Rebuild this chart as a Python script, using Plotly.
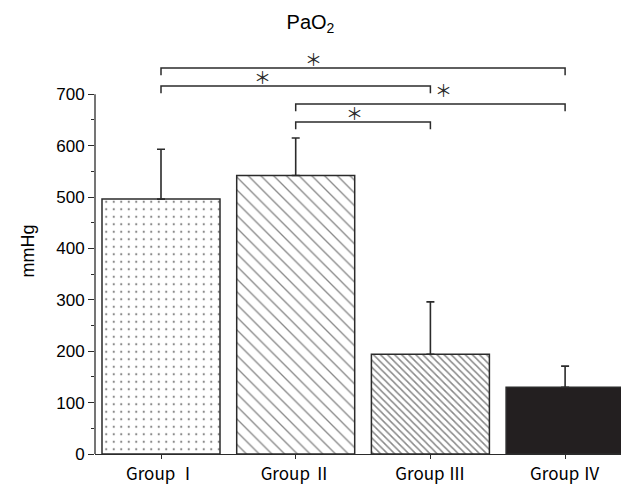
import plotly.graph_objects as go

groups = ["Group Ⅰ", "Group Ⅱ", "Group Ⅲ", "Group Ⅳ"]
means = [496, 542, 194, 130]
sd_up = [97, 73, 102, 41]

# significance brackets: (left group index, right group index, bracket height)
brackets = [(0, 3, 751), (0, 2, 716), (1, 3, 681), (1, 2, 646)]
# star positions (x in category units, y in data units)
star_x = [1.13, 0.75, 2.10, 1.44]
star_y = [751, 716, 690, 646]

y_ticks = [0, 100, 200, 300, 400, 500, 600, 700]
y_minor = [50, 150, 250, 350, 450, 550, 650]

fill = ["white", "white", "white", "#231f20"]
pattern_shape = [".", "\\", "\\", ""]
pattern_size = [7.5, 9, 5, 8]
pattern_solid = [0.07, 0.15, 0.3, 0.3]

xpos = list(range(len(groups)))

fig = go.Figure()
for i in xpos:
    marker = dict(color=fill[i], line=dict(color="#2b2b2b", width=1.5))
    if pattern_shape[i]:
        marker["pattern"] = dict(shape=pattern_shape[i], size=pattern_size[i],
                                 solidity=pattern_solid[i], fgcolor="#111111",
                                 bgcolor="white", fillmode="overlay")
    fig.add_trace(go.Bar(
        x=[xpos[i]], y=[means[i]], width=0.876,
        marker=marker,
        error_y=dict(type="data", symmetric=False, array=[sd_up[i]], arrayminus=[0],
                     color="#2b2b2b", thickness=1.6, width=4),
        showlegend=False, hoverinfo="skip",
    ))

shapes = []
tick = 14
for (a, b, h) in brackets:
    shapes.append(dict(type="path", xref="x", yref="y",
                       path=f"M {a},{h - tick} L {a},{h} L {b},{h} L {b},{h - tick}",
                       line=dict(color="#2b2b2b", width=1.5)))
# y axis line only up to 700
shapes.append(dict(type="line", xref="paper", yref="y", x0=0, x1=0, y0=0, y1=700,
                   line=dict(color="#2b2b2b", width=1.3)))

annotations = []
for sx, sy in zip(star_x, star_y):
    annotations.append(dict(x=sx, y=sy, xref="x", yref="y", text="＊", showarrow=False,
                            yanchor="bottom", yshift=-5,
                            font=dict(family="Noto Sans CJK JP", size=17, color="#2b2b2b")))

fig.update_layout(
    width=621, height=485,
    margin=dict(l=95, r=0, t=48, b=31),
    plot_bgcolor="white", paper_bgcolor="white",
    title=dict(text="PaO<sub>2</sub>", x=0.5, xanchor="center", y=0.955, yanchor="middle",
               yref="container", font=dict(family="Liberation Sans", size=20, color="black")),
    shapes=shapes, annotations=annotations,
    xaxis=dict(range=[-0.49, 3.415], tickvals=xpos, ticktext=groups,
               showline=True, linecolor="#2b2b2b", linewidth=1.3,
               ticks="outside", ticklen=4, tickcolor="#2b2b2b", showgrid=False, zeroline=False,
               tickfont=dict(family="Noto Sans CJK JP", size=17, color="black")),
    yaxis=dict(range=[0, 790], tickvals=y_ticks, showline=False, showgrid=False, zeroline=False,
               ticks="outside", ticklen=6, tickcolor="#2b2b2b",
               minor=dict(tickvals=y_minor, ticks="outside", ticklen=3, tickcolor="#2b2b2b"),
               tickfont=dict(family="Liberation Sans", size=17, color="black"),
               title=dict(text="mmHg", standoff=16,
                          font=dict(family="Liberation Sans", size=18, color="black"))),
    bargap=0.12,
)

fig.write_html("out.html", post_script="document.body.style.margin='0';",
               config={"displayModeBar": False})
